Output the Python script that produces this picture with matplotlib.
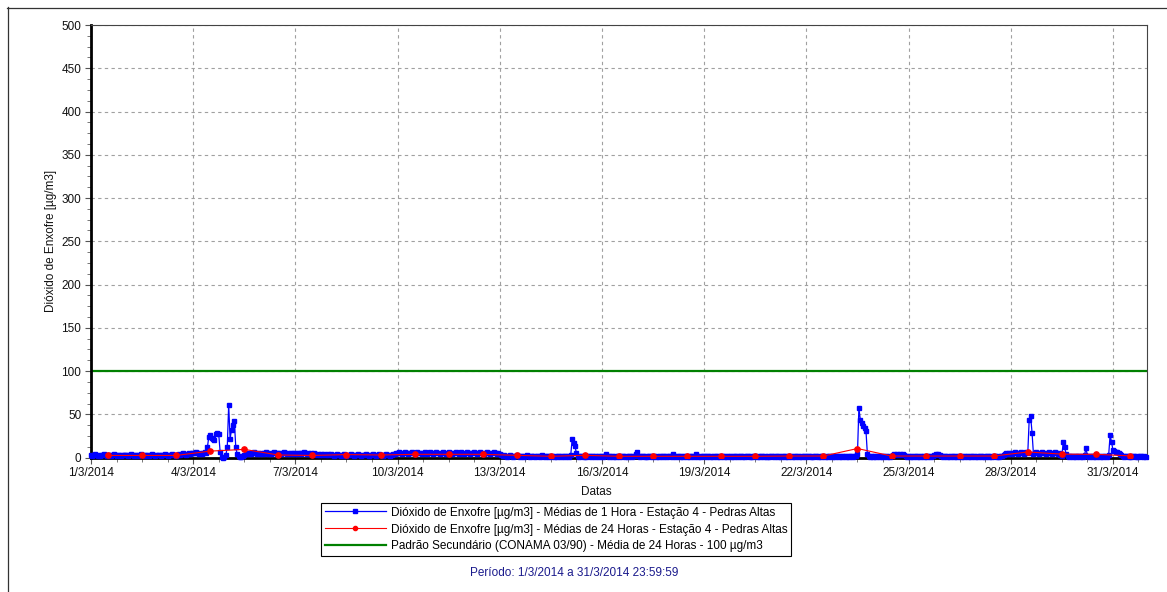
import numpy as np
import matplotlib
matplotlib.use('Agg')
import matplotlib.pyplot as plt
from matplotlib.ticker import MultipleLocator, FixedLocator, FixedFormatter
from matplotlib.lines import Line2D

plt.rcParams['font.family'] = ['Liberation Sans', 'DejaVu Sans']

# Hourly SO2 means (µg/m3), one row per day of March 2014 (24 hours each)
hourly_so2 = [
    [3,2,3,4,3,2,2,3,3,4,3,2,3,3,2,3,4,3,2,3,3,2,3,3],
    [3,3,2,3,4,3,2,3,3,2,3,4,3,3,2,3,3,2,3,4,3,2,3,3],
    [3,2,3,3,4,3,2,3,3,4,3,3,2,3,4,3,4,5,4,3,4,5,4,5],
    [5,5,6,5,4,5,4,5,6,5,12,24,26,23,22,20,27,28,27,6,1,0,1,3],
    [12,61,22,32,38,42,12,4,2,1,1,2,3,4,5,4,5,4,5,6,5,4,5,4],
    [5,4,5,6,5,4,5,4,5,6,5,4,5,5,4,5,6,5,4,5,4,5,5,4],
    [5,4,5,5,4,5,6,5,4,5,4,5,4,5,4,3,4,3,4,3,4,3,3,4],
    [3,4,3,2,3,4,3,3,2,3,4,3,2,3,3,4,3,2,3,3,4,3,2,3],
    [3,3,4,3,2,3,3,4,3,2,3,4,3,3,2,3,4,3,3,2,3,4,4,5],
    [5,6,5,4,5,6,5,4,5,5,6,5,4,5,6,5,5,4,5,6,5,4,5,6],
    [5,4,5,6,5,5,4,5,6,5,4,5,6,5,4,5,5,6,5,4,5,6,5,4],
    [5,6,5,4,5,5,6,5,4,5,6,5,5,4,5,6,5,4,5,5,6,5,4,5],
    [4,3,2,3,2,1,2,3,2,1,2,2,3,2,1,2,2,1,2,3,2,1,2,2],
    [2,1,2,2,1,2,3,2,1,2,2,1,2,2,1,2,1,2,2,1,2,2,1,2],
    [2,1,3,21,17,13,5,2,1,2,2,1,2,1,2,2,1,2,2,1,2,2,1,2],
    [2,1,2,4,2,1,2,2,1,2,1,2,2,1,2,2,1,2,1,2,2,1,2,2],
    [4,6,2,1,2,2,1,2,1,2,2,1,2,2,1,2,1,2,2,1,2,2,1,2],
    [2,1,4,2,1,2,2,1,2,1,2,2,1,2,1,2,2,1,4,2,1,2,1,2],
    [2,1,2,2,1,2,1,2,2,1,2,1,2,2,1,2,1,2,2,1,2,1,2,2],
    [1,2,2,1,2,1,2,2,1,2,1,2,2,1,2,1,2,2,1,2,1,2,1,2],
    [2,1,2,2,1,2,1,2,2,1,2,1,2,2,1,2,1,2,2,1,2,1,2,2],
    [1,2,2,1,2,1,2,2,1,2,1,2,2,1,2,1,2,2,1,2,1,2,2,1],
    [2,1,2,2,1,2,1,2,2,1,2,2,4,57,44,40,37,34,31,4,2,1,2,1],
    [2,1,2,2,1,2,1,2,2,1,2,1,2,3,4,3,4,3,4,3,4,3,2,1],
    [2,1,2,1,2,2,1,2,1,2,2,1,2,1,2,2,1,2,3,4,3,4,3,2],
    [1,2,2,1,2,1,2,2,1,2,1,2,2,1,2,1,2,2,1,2,1,2,2,1],
    [2,1,2,2,1,2,1,2,2,1,2,1,2,2,1,2,1,2,2,3,4,5,4,5],
    [5,4,5,6,5,4,5,6,5,4,5,6,5,44,48,29,4,5,6,5,4,5,6,5],
    [5,4,5,6,5,4,5,6,5,4,5,3,2,18,12,4,2,1,2,2,1,2,1,2],
    [2,1,2,1,3,11,2,1,2,2,1,2,1,2,2,1,2,1,2,2,1,3,26,18],
    [9,8,6,7,5,4,3,2,1,2,2,1,2,1,2,2,1,2,1,2,2,1,2,1],
]

# 24-hour means (µg/m3), one per day
daily_so2 = [2.5, 2.5, 2.5, 7.5, 9.5, 3, 2.5, 3.5, 3, 3.8, 3.8, 3.8, 2.6, 1.5, 2.6,
             1.5, 1.5, 1.5, 1.5, 1.5, 1.8, 1.8, 10.5, 1.8, 1.8, 1.8, 1.8, 6.5, 4, 3.8, 2]

limit_value = 100

date_labels = ['1/3/2014', '4/3/2014', '7/3/2014', '10/3/2014', '13/3/2014', '16/3/2014',
               '19/3/2014', '22/3/2014', '25/3/2014', '28/3/2014', '31/3/2014']

label_hourly = 'Dióxido de Enxofre [µg/m3] - Médias de 1 Hora - Estação 4 - Pedras Altas'
label_daily = 'Dióxido de Enxofre [µg/m3] - Médias de 24 Horas - Estação 4 - Pedras Altas'
label_limit = 'Padrão Secundário (CONAMA 03/90) - Média de 24 Horas - 100 µg/m3'

FS = 8.5
W, H = 1167, 592
fig = plt.figure(figsize=(W / 100, H / 100), dpi=100)
ax_l, ax_r, ax_t, ax_b = 91, 1147, 25, 457.6
ax = fig.add_axes([ax_l / W, 1 - ax_b / H, (ax_r - ax_l) / W, (ax_b - ax_t) / H])

hourly = np.concatenate([np.asarray(r, dtype=float) for r in hourly_so2])
t_hour = np.arange(hourly.size) / 24.0
t_day = np.arange(len(daily_so2)) + 0.5

ax.plot(t_hour, hourly, color='#0000ff', lw=0.9, marker='s', ms=2.5,
        mec='#0000ff', mfc='#0000ff', label=label_hourly, zorder=3, clip_on=False)
ax.plot(t_day, daily_so2, color='#ff0000', lw=0.8, marker='o', ms=3.8,
        mec='#ff0000', mfc='#ff0000', label=label_daily, zorder=4)
ax.axhline(limit_value, color='#008000', lw=1.6, label=label_limit, zorder=2)

ax.set_xlim(0, 31)
ax.set_ylim(0, 500)
ax.xaxis.set_major_locator(FixedLocator(np.arange(len(date_labels)) * 3))
ax.xaxis.set_major_formatter(FixedFormatter(date_labels))
ax.xaxis.set_minor_locator(MultipleLocator(0.75))
ax.yaxis.set_major_locator(MultipleLocator(50))
ax.yaxis.set_minor_locator(MultipleLocator(12.5))

ax.grid(True, which='major', color='#a0a0a0', linestyle=(0, (3, 3)), lw=0.8, zorder=1)
ax.set_axisbelow(True)

ax.tick_params(which='major', length=4, width=0.8, color='#555555', labelsize=FS,
               labelcolor='#111111', pad=3)
ax.tick_params(which='minor', length=3, width=0.7, color='#777777')

for side in ('top', 'right'):
    ax.spines[side].set_linewidth(0.8)
    ax.spines[side].set_color('#444444')
for side in ('left', 'bottom'):
    ax.spines[side].set_linewidth(2.0)
    ax.spines[side].set_color('#000000')

fig.text(51 / W, 1 - 241 / H, 'Dióxido de Enxofre [µg/m3]', rotation=90,
         ha='center', va='center', fontsize=FS, color='#111111')
fig.text(596 / W, 1 - 491.7 / H, 'Datas', ha='center', va='center', fontsize=FS, color='#111111')
fig.text(574 / W, 1 - 572.7 / H, 'Período: 1/3/2014 a 31/3/2014 23:59:59',
         ha='center', va='center', fontsize=FS, color='#1a1a8c')

leg = fig.legend(loc='upper center', bbox_to_anchor=(556 / W, 1 - 503 / H),
                 fontsize=FS, frameon=True, fancybox=False, framealpha=1,
                 edgecolor='#000000', handlelength=5.2, handletextpad=0.4,
                 borderpad=0.3, labelspacing=0.42, numpoints=1, borderaxespad=0)
leg.get_frame().set_linewidth(0.8)
for line in leg.get_lines():
    line.set_markersize(3.0)

# outer frame of the image
fig.add_artist(Line2D([7.5 / W, 7.5 / W], [0, 1 - 7 / H], color='#333333', lw=0.9,
                      transform=fig.transFigure))
fig.add_artist(Line2D([7 / W, 1], [1 - 7.5 / H, 1 - 7.5 / H], color='#333333', lw=0.9,
                      transform=fig.transFigure))

fig.savefig('out.png', dpi=100, facecolor='white')
